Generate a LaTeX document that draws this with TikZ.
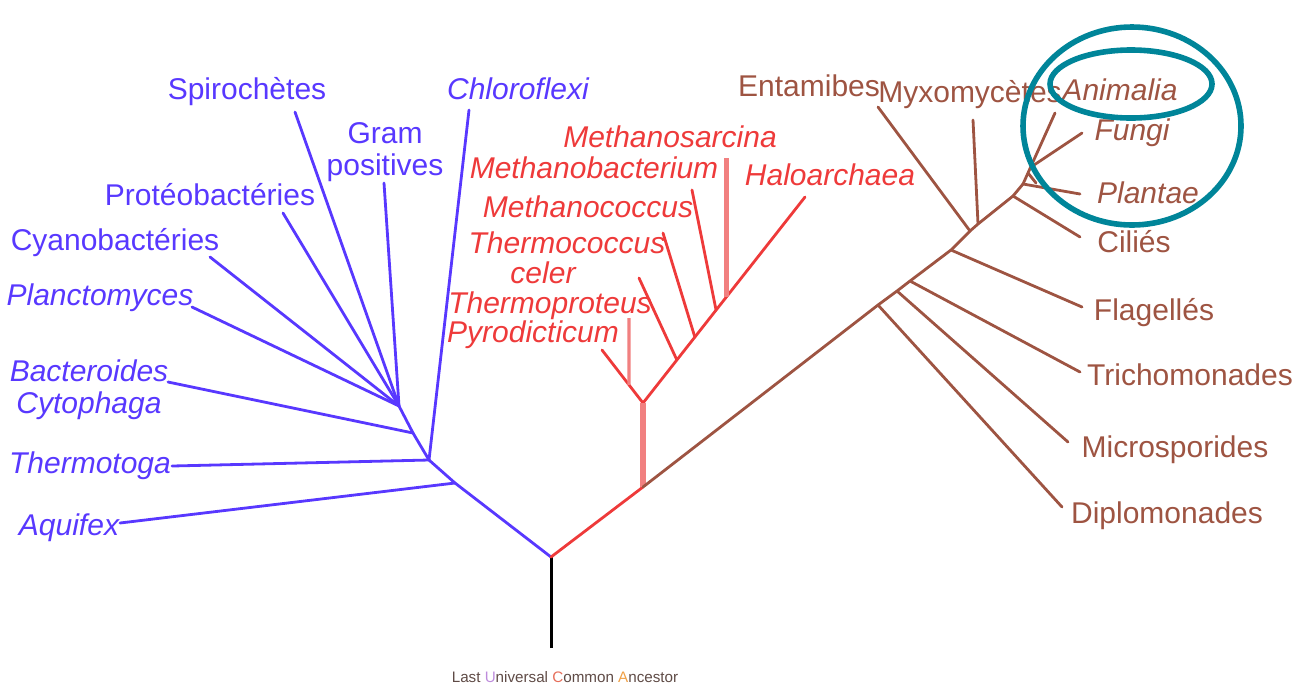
\documentclass[tikz,border=0pt]{standalone}
\usepackage{fontspec}
\setmainfont{Liberation Sans}
\usetikzlibrary{calc}
\definecolor{bactblue}{RGB}{88,56,255}
\definecolor{archred}{RGB}{238,58,58}
\definecolor{archpink}{RGB}{241,128,128}
\definecolor{eukbrown}{RGB}{158,84,66}
\definecolor{ringteal}{RGB}{0,133,153}
\definecolor{lucagray}{RGB}{95,75,70}
\definecolor{lucau}{RGB}{190,140,220}
\definecolor{lucac}{RGB}{230,110,90}
\definecolor{lucaa}{RGB}{240,160,70}
\tikzset{
	taxon/.style={font=\fontsize{15}{16}\selectfont,inner sep=0pt,anchor=base},
	itaxon/.style={taxon,font=\fontsize{15}{16}\selectfont\itshape},
	branch/.style={line width=1.4pt,line cap=round}
}

\begin{document}
\begin{tikzpicture}[x=0.5pt,y=-0.5pt,
		bline/.style={branch,draw=bactblue},
		aline/.style={branch,draw=archred},
		pline/.style={draw=archpink,line width=#1},
		pline/.default=1.6pt,
		eline/.style={branch,draw=eukbrown},
		ring/.style={draw=ringteal,line width=2.8pt}]
	\useasboundingbox (0,0) rectangle (1293,687);
	% stem
	\coordinate (luca) at (551,648);
	\coordinate (root) at (551,557);
	\draw[line width=1.5pt] (luca) -- (root);
	\node[font=\fontsize{7.6}{9}\selectfont,text=lucagray,anchor=base] (lucaname) at (565,682)
		{Last \textcolor{lucau}{U}niversal \textcolor{lucac}{C}ommon \textcolor{lucaa}{A}ncestor};
	% bacteria
	\foreach \n/\z in {b1/{455,483},b2/{429,460},b3/{413,433},b4/{399,406},
		aquifex/{120,523},thermotoga/{172,466},chloro/{469,110},bactero/{168,382},
		spiro/{295,112},gram/{384,183},proteo/{283,213},cyano/{210,257},plancto/{192,307}}
		\coordinate (\n) at (\z);
	\foreach \a/\b in {root/b1,b1/b2,b2/b3,b3/b4,b1/aquifex,b2/thermotoga,b2/chloro,
		b3/bactero,b4/spiro,b4/gram,b4/proteo,b4/cyano,b4/plancto}
		\draw[bline] (\a) -- (\b);
	\foreach \n/\z/\s/\t in {spironame/{247,99}/taxon/Spirochètes,chloroname/{518,99}/itaxon/Chloroflexi,
		proteoname/{210,205}/taxon/Protéobactéries,cyanoname/{115,250}/taxon/Cyanobactéries,
		planctoname/{100,305}/itaxon/Planctomyces,thermotoganame/{90,473}/itaxon/Thermotoga,
		aquifexname/{69,535}/itaxon/Aquifex}
		\node[\s,text=bactblue] (\n) at (\z) {\t};
	\node[taxon,text=bactblue,align=center] (gramname) at (385,175) {Gram\\positives};
	\node[itaxon,text=bactblue,align=center] (bacteroname) at (89,413) {Bacteroides\\Cytophaga};
	% archaea
	\foreach \n/\z in {a1/{643,487},a2/{643,403},halo/{805,197},stub/{602,350},pyro/{629,318},
		thermop/{639,278},thermoc/{663,233},mcoccus/{692,190}}
		\coordinate (\n) at (\z);
	\coordinate (a3) at ($(a2)!0.209!(halo)$);
	\coordinate (a4) at ($(a2)!0.32!(halo)$);
	\coordinate (a5) at ($(a2)!0.451!(halo)$);
	\coordinate (a6) at ($(a2)!0.515!(halo)$);
	\coordinate (pyroj) at ($(a2)!0.341!(stub)$);
	\coordinate (mbact) at ($(a6)+(0,-139)$);
	\draw[aline] (root) -- (a1);
	\foreach \a/\b in {a2/halo,a2/stub,a3/thermop,a4/thermoc,a5/mcoccus}
		\draw[aline] (\a) -- (\b);
	\draw[pline=3pt] (a1) -- (a2);
	\draw[pline] (pyroj) -- (pyro);
	\draw[pline=2.2pt] (a6) -- (mbact);
	\foreach \n/\z/\t in {msarcname/{670,147}/Methanosarcina,mbactname/{594,178}/Methanobacterium,
		haloname/{830,185}/Haloarchaea,mcoccusname/{588,217}/Methanococcus,
		thermocname/{567,253}/Thermococcus,celername/{543,283}/celer,
		thermopname/{550,313}/Thermoproteus,pyroname/{533,342}/Pyrodicticum}
		\node[itaxon,text=archred] (\n) at (\z) {\t};
	% eukaryotes
	\foreach \n/\z in {e1/{878,305},e2/{897,291},e3/{910,281},e4/{951,250},e5/{970,231},
		myxoj/{978,224},e6/{1013,196},e7/{1023,184},fungj/{1031,167},
		diplo/{1062,507},micro/{1068,442},tricho/{1080,372},flag/{1082,307},entam/{878,107},
		myxo/{973,120},cilie/{1080,237},plant/{1080,194},anim/{1055,113},fung/{1082,133},
		nick1/{1028,173},nick2/{1036,183}}
		\coordinate (\n) at (\z);
	\draw[eline] (a1) -- (e1) -- (e2) -- (e3) -- (e4) -- (e5) -- (myxoj) -- (e6) -- (e7);
	\foreach \a/\b in {e1/diplo,e2/micro,e3/tricho,e4/flag,e5/entam,myxoj/myxo,e6/cilie,
		e7/plant,e7/anim,fungj/fung,nick1/nick2}
		\draw[eline] (\a) -- (\b);
	\foreach \n/\z/\s/\t in {entamname/{809,96}/taxon/Entamibes,myxoname/{970,102}/taxon/Myxomycètes,
		animname/{1120,100}/itaxon/Animalia,fungname/{1132,140}/itaxon/Fungi,
		plantname/{1148,203}/itaxon/Plantae,ciliename/{1134,252}/taxon/Ciliés,
		flagname/{1154,320}/taxon/Flagellés,trichoname/{1190,385}/taxon/Trichomonades,
		microname/{1175,457}/taxon/Microsporides,diploname/{1167,523}/taxon/Diplomonades}
		\node[\s,text=eukbrown] (\n) at (\z) {\t};
	% circled group
	\draw[ring] (1132,126) ellipse [x radius=109,y radius=99];
	\draw[ring] (1131,84) ellipse [x radius=81,y radius=34];
\end{tikzpicture}
\end{document}
